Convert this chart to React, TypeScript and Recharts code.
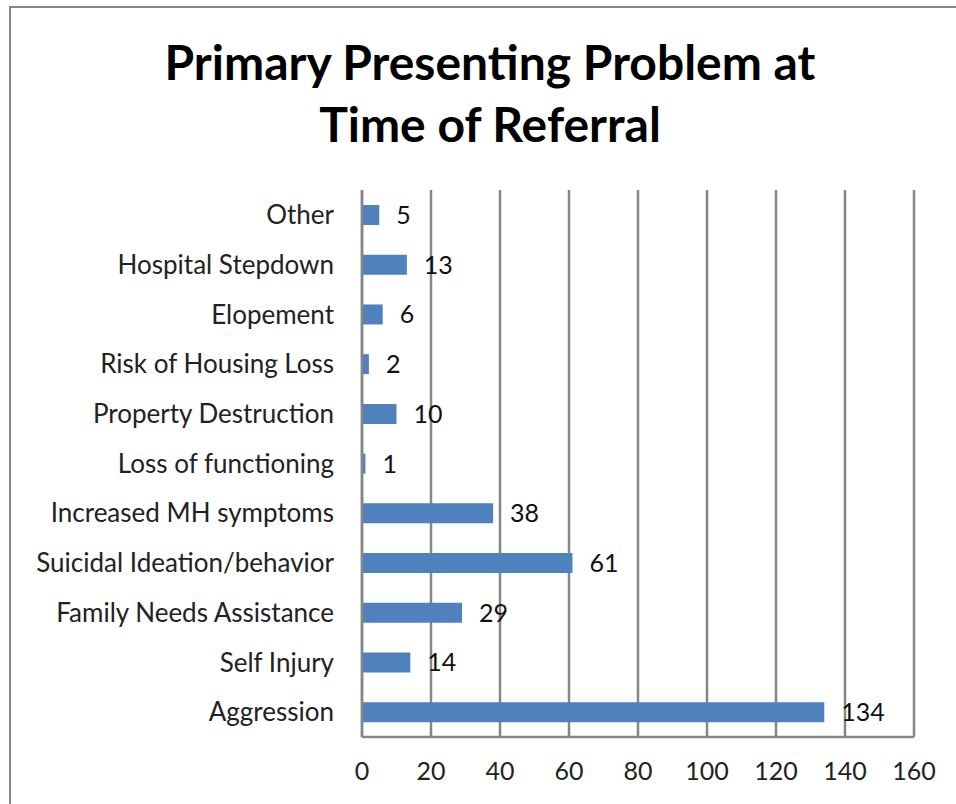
import { BarChart, Bar, XAxis, YAxis, CartesianGrid, LabelList } from "recharts";

const categories = [
  "Other",
  "Hospital Stepdown",
  "Elopement",
  "Risk of Housing Loss",
  "Property Destruction",
  "Loss of functioning",
  "Increased MH symptoms",
  "Suicidal Ideation/behavior",
  "Family Needs Assistance",
  "Self Injury",
  "Aggression",
];
const counts = [5, 13, 6, 2, 10, 1, 38, 61, 29, 14, 134];
const xTicks = [0, 20, 40, 60, 80, 100, 120, 140, 160];

const data = categories.map((name, i) => ({ name, value: counts[i] }));

const FONT = "Lato, 'Noto Sans', sans-serif";
const GRID = "#868686";

export default function App() {
  return (
    <div style={{ position: "fixed", inset: 0, overflow: "hidden", background: "#fff", fontFamily: FONT }}>
      <div
        style={{
          position: "absolute",
          left: 9,
          top: 6,
          width: 1000,
          height: 1000,
          borderLeft: `2px solid ${GRID}`,
          borderTop: `2px solid ${GRID}`,
        }}
      />
      <div
        style={{
          position: "absolute",
          left: 90,
          width: 800,
          top: 31,
          textAlign: "center",
          fontWeight: 700,
          fontSize: 48,
          lineHeight: "62px",
          color: "#000",
        }}
      >
        Primary Presenting Problem at
        <br />
        Time of Referral
      </div>
      <div style={{ position: "absolute", left: 0, top: 0 }}>
        <BarChart
          width={956}
          height={804}
          data={data}
          layout="vertical"
          margin={{ top: 190, right: 42, bottom: 37, left: 0 }}
          barSize={20}
        >
          <CartesianGrid horizontal={false} vertical stroke={GRID} strokeWidth={2.5} />
          <XAxis
            type="number"
            domain={[0, 160]}
            ticks={xTicks}
            interval={0}
            height={30}
            axisLine={{ stroke: GRID, strokeWidth: 2.5 }}
            tickLine={false}
            tickSize={0}
            tickMargin={25}
            tick={{ fontSize: 25, fill: "#222", fontFamily: FONT }}
          />
          <YAxis
            type="category"
            dataKey="name"
            width={362}
            interval={0}
            axisLine={{ stroke: GRID, strokeWidth: 2.5 }}
            tickLine={false}
            tickSize={0}
            tickMargin={28}
            tick={{ fontSize: 26, fill: "#222", fontFamily: FONT }}
          />
          <Bar dataKey="value" fill="#4F81BD" isAnimationActive={false}>
            <LabelList
              dataKey="value"
              position="right"
              offset={17}
              style={{ fontSize: 25, fill: "#111", fontFamily: FONT }}
            />
          </Bar>
        </BarChart>
      </div>
    </div>
  );
}
